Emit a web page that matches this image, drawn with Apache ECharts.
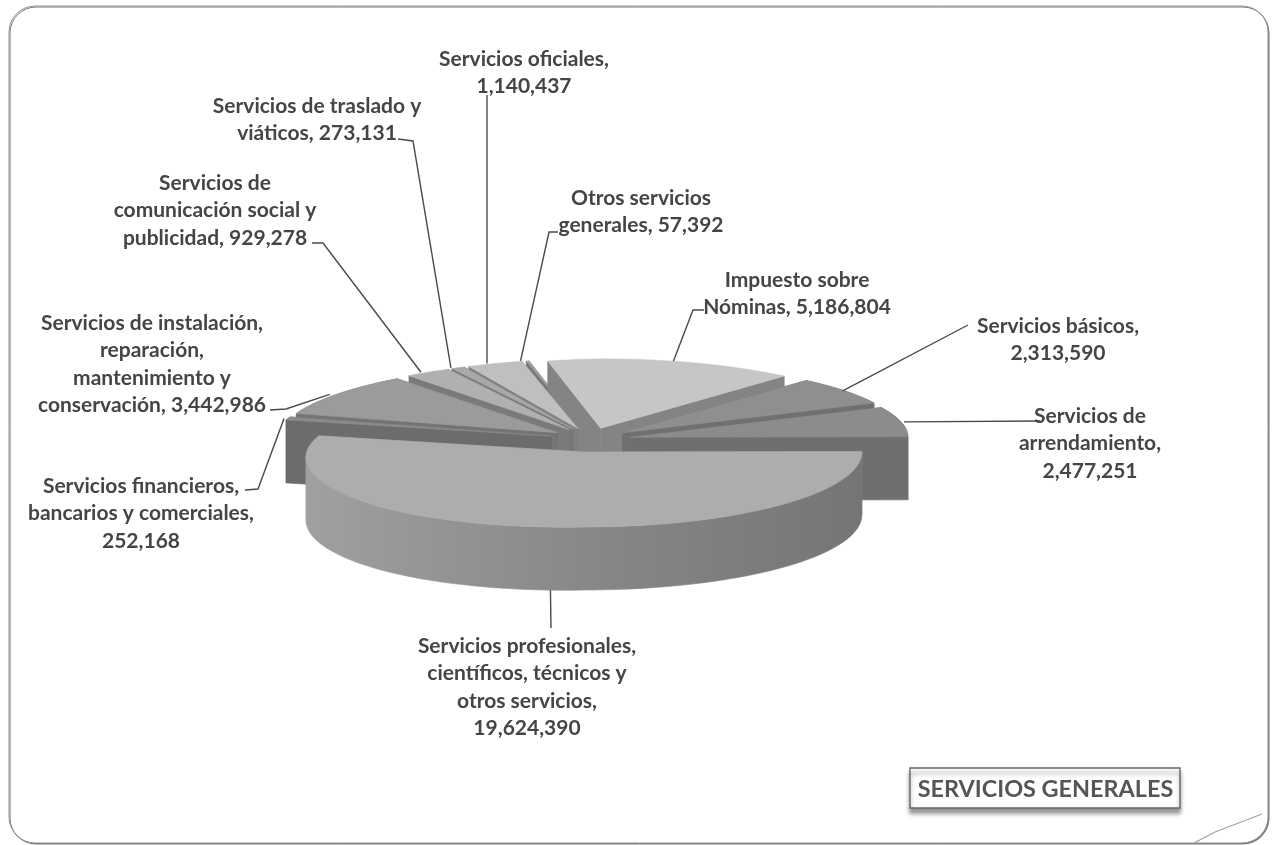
<!DOCTYPE html>
<html>
<head>
<meta charset="utf-8">
<style>
  html, body { margin: 0; padding: 0; background: #fff; }
  #chart { width: 1280px; height: 845px; }
</style>
<script src="https://cdn.jsdelivr.net/npm/echarts@6/dist/echarts.min.js"></script>
</head>
<body>
<div id="chart"></div>
<script>
// clockwise from the top of the pie, same order as the source sheet
var categories = [
  'Impuesto sobre Nóminas',
  'Servicios básicos',
  'Servicios de arrendamiento',
  'Servicios profesionales, científicos, técnicos y otros servicios',
  'Servicios financieros, bancarios y comerciales',
  'Servicios de instalación, reparación, mantenimiento y conservación',
  'Servicios de comunicación social y publicidad',
  'Servicios de traslado y viáticos',
  'Servicios oficiales',
  'Otros servicios generales'
];
var values = [5186804, 2313590, 2477251, 19624390, 252168, 3442986, 929278, 273131, 1140437, 57392];

// {v} is replaced by the formatted value
var labelTexts = [
  'Impuesto sobre\nNóminas, {v}',
  'Servicios básicos,\n{v}',
  'Servicios de\narrendamiento,\n{v}',
  'Servicios profesionales,\ncientíficos, técnicos y\notros servicios,\n{v}',
  'Servicios financieros,\nbancarios y comerciales,\n{v}',
  'Servicios de instalación,\nreparación,\nmantenimiento y\nconservación, {v}',
  'Servicios de\ncomunicación social y\npublicidad, {v}',
  'Servicios de traslado y\nviáticos, {v}',
  'Servicios oficiales,\n{v}',
  'Otros servicios\ngenerales, {v}'
];

var topColors = ['#c6c6c6', '#8f8f8f', '#8c8c8c', '#adadad', '#8a8a8a', '#9b9b9b', '#b0b0b0', '#a8a8a8', '#bfbfbf', '#a0a0a0'];
var sideColors = ['#848484', '#707070', '#6f6f6f', '#8c8c8c', '#6c6c6c', '#747474', '#7a7a7a', '#777777', '#808080', '#777777'];

// label anchor [x, y] (centre of the block, top of the first line) and the leader points
var labelPos = [
  [797, 266], [1058, 312], [1090, 402], [527, 632],
  [141, 472], [152, 309], [215, 169], [317, 92],
  [524, 45], [641, 184]
];
var leaderPoints = [
  [[693, 310], [704, 310]],
  [[968, 325]],
  [[1040, 421]],
  [[551, 628]],
  [[258, 489], [245, 490]],
  [[286, 409], [270, 410]],
  [[323, 243], [312, 243]],
  [[413, 141], [398, 139]],
  [[487, 95]],
  [[549, 232], [558, 232]]
];
// small shift of each leader's start on the rim
var leaderNudge = [0, -2, 3, 8, -4, -7, -7, -7, -8, -7];

var startAngle = -11;
var cx = 590, cy = 440, radius = 278, explode = 41, depth = 63;
var kBack = 0.25, kFront = 0.27, kExplode = 0.295, leftDrop = 0.018;
var total = values.reduce(function (a, b) { return a + b; }, 0);

function rad(d) { return d * Math.PI / 180; }

var slices = [];
var running = startAngle;
values.forEach(function (v, i) {
  var span = v / total * 360;
  slices.push({ index: i, a0: running, a1: running + span, mid: running + span / 2 });
  running += span;
});

function apexOf(s) {
  return [cx + explode * Math.sin(rad(s.mid)), cy - explode * kExplode * Math.cos(rad(s.mid))];
}
function rimPoint(apex, deg) {
  var c = Math.cos(rad(deg));
  var sn = Math.sin(rad(deg));
  var y = apex[1] - radius * c * (c > 0 ? kBack : kFront);
  if (sn < 0) y -= radius * sn * leftDrop;
  return [apex[0] + radius * sn, y];
}
function arcPoints(apex, a0, a1) {
  var pts = [];
  var n = Math.max(2, Math.ceil((a1 - a0) / 2));
  for (var i = 0; i <= n; i++) pts.push(rimPoint(apex, a0 + (a1 - a0) * i / n));
  return pts;
}
function down(p) { return [p[0], p[1] + depth]; }

// back slices are painted first
var drawOrder = slices.slice().sort(function (a, b) {
  return Math.cos(rad(b.mid)) - Math.cos(rad(a.mid));
});

function poly(points, fill) {
  return { type: 'polygon', shape: { points: points }, style: { fill: fill, stroke: fill, lineWidth: 0.6 } };
}

function renderSlice(params) {
  var s = drawOrder[params.dataIndex];
  var apex = apexOf(s);
  var arc = arcPoints(apex, s.a0, s.a1);
  var side = sideColors[s.index];
  var children = [];
  var first = arc[0], last = arc[arc.length - 1];

  children.push(poly([apex, first, down(first), down(apex)], side));
  children.push(poly([apex, last, down(last), down(apex)], side));

  // outer wall, only the part that faces the viewer is seen
  var wallFrom = Math.max(s.a0, 90), wallTo = Math.min(s.a1, 270);
  if (wallTo > wallFrom) {
    var wall = arcPoints(apex, wallFrom, wallTo);
    var grad = new echarts.graphic.LinearGradient(1, 0, 0, 0, [
      { offset: 0, color: '#757575' },
      { offset: 0.5, color: '#888888' },
      { offset: 1, color: '#a0a0a0' }
    ]);
    children.push(poly(wall.concat(wall.map(down).reverse()), grad));
  }
  // the rim seen at the far right and far left ends of the back slices
  if (s.a0 < 90 && s.a1 > 60 && s.a1 <= 90) {
    var wr = arcPoints(apex, s.a0, s.a1);
    children.push(poly(wr.concat(wr.map(down).reverse()), side));
  }
  if (s.a1 > 270 && s.a0 >= 270 && s.a0 < 295) {
    var wl = arcPoints(apex, s.a0, s.a1);
    children.push(poly(wl.concat(wl.map(down).reverse()), side));
  }

  children.push(poly([apex].concat(arc), topColors[s.index]));
  return { type: 'group', children: children };
}

function renderLabel(params) {
  var i = params.dataIndex;
  var s = slices[i];
  var apex = apexOf(s);
  var start = rimPoint(apex, s.mid);
  if (Math.cos(rad(s.mid)) < -0.5) start = down(start);
  start = [start[0] + leaderNudge[i], start[1]];
  var text = labelTexts[i].replace('{v}', values[i].toLocaleString('en-US'));
  var pos = labelPos[i];
  return {
    type: 'group',
    children: [
      {
        type: 'polyline',
        shape: { points: [start].concat(leaderPoints[i]) },
        style: { fill: 'none', stroke: '#4a4a4a', lineWidth: 1.4 }
      },
      {
        type: 'text',
        style: {
          text: text, x: pos[0], y: pos[1], align: 'center', verticalAlign: 'top',
          font: 'bold 21px Lato, sans-serif', lineHeight: 27.5, fill: '#454545'
        }
      }
    ]
  };
}

var chart = echarts.init(document.getElementById('chart'));
chart.setOption({
  animation: false,
  backgroundColor: '#ffffff',
  graphic: [
    {
      type: 'rect', z: 0,
      shape: { x: 9, y: 6, width: 1259, height: 837, r: 26 },
      style: {
        fill: '#ffffff', stroke: '#959595', lineWidth: 1,
        shadowColor: '#777777', shadowBlur: 0.5, shadowOffsetX: 1, shadowOffsetY: 1
      }
    },
    {
      type: 'polyline', z: 0,
      shape: { points: [[1194, 843], [1215, 832], [1262, 814]] },
      style: { fill: 'none', stroke: '#a0a0a0', lineWidth: 1.2 }
    },
    {
      type: 'rect', z: 0,
      shape: { x: 910, y: 768, width: 270, height: 40 },
      style: {
        fill: '#ffffff', stroke: '#666666', lineWidth: 1.4,
        shadowColor: 'rgba(0,0,0,0.4)', shadowBlur: 4, shadowOffsetY: 5
      }
    },
    {
      type: 'text', z: 1,
      style: {
        text: 'SERVICIOS GENERALES', x: 1045.5, y: 789, align: 'center', verticalAlign: 'middle',
        font: 'bold 23.4px Lato, sans-serif', fill: '#555555'
      }
    }
  ],
  series: [
    {
      type: 'custom',
      coordinateSystem: 'none',
      renderItem: renderSlice,
      silent: true,
      z: 2,
      data: drawOrder.map(function (s) { return { name: categories[s.index], value: values[s.index] }; })
    },
    {
      type: 'custom',
      coordinateSystem: 'none',
      renderItem: renderLabel,
      silent: true,
      z: 3,
      data: categories.map(function (c, i) { return { name: c, value: values[i] }; })
    }
  ]
});
</script>
</body>
</html>
